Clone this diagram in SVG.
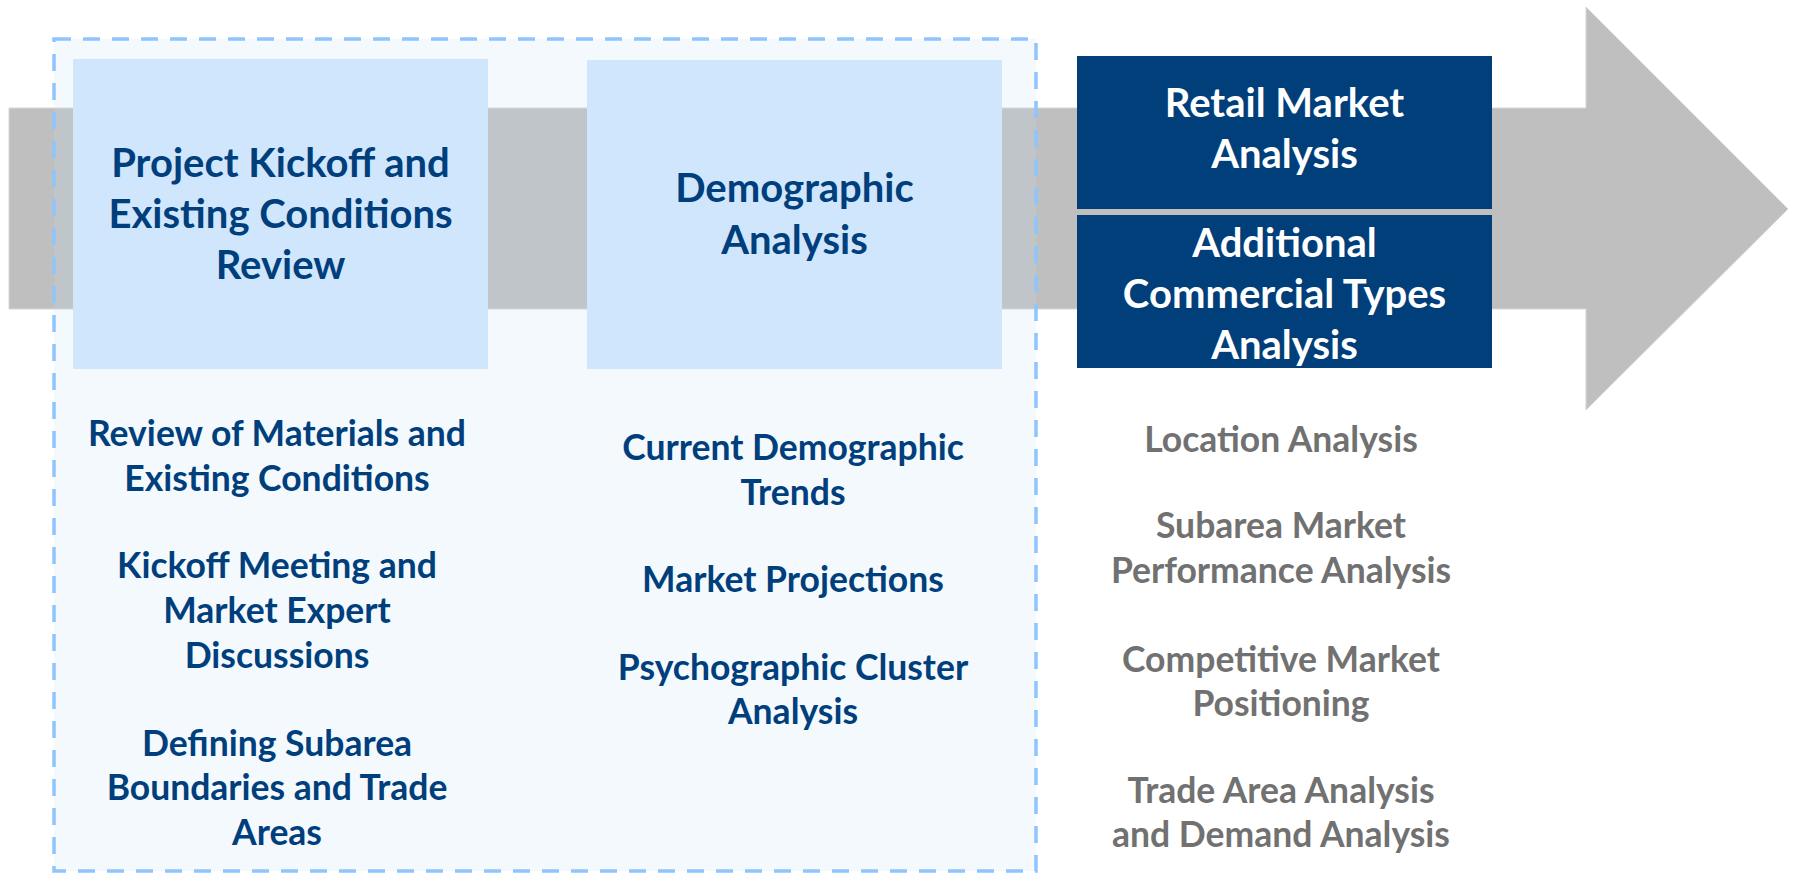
<svg xmlns="http://www.w3.org/2000/svg" width="1794" height="873" viewBox="0 0 1794 873">
  <style>
    .title { font-family: Lato, "Liberation Sans", sans-serif; font-weight: 700; font-size: 40px; text-anchor: middle; }
    .item { font-family: Lato, "Liberation Sans", sans-serif; font-weight: 700; font-size: 35.5px; text-anchor: middle; }
    .navy { fill: #003F7C; }
    .white { fill: #FFFFFF; }
    .grey { fill: #717171; }
    .phase-light { fill: #D0E6FC; }
    .phase-dark { fill: #013F7B; }
  </style>

  <rect width="1794" height="873" fill="#FFFFFF"/>

  <!-- timeline arrow running behind all phases -->
  <g id="connectors">
    <polygon points="9,108 1586,108 1586,7 1788,209 1586,410 1586,309 9,309" fill="#BFBFBF" stroke="#D6D6D6" stroke-width="1"/>
  </g>

  <!-- dashed grouping frame around the first two phases -->
  <g id="phase-group">
    <rect x="54" y="39" width="982" height="832" fill="rgb(200,225,250)" fill-opacity="0.2"/>
    <rect x="54" y="39" width="982" height="832" fill="none" stroke="#8EC5FD" stroke-width="3.5" stroke-dasharray="17 12"/>
  </g>

  <g id="phase-kickoff">
    <rect class="phase-light" x="73" y="59" width="415" height="310"/>
    <text class="title navy" x="280.5" y="177">Project Kickoff and</text>
    <text class="title navy" x="280.5" y="228">Existing Conditions</text>
    <text class="title navy" x="280.5" y="279">Review</text>
  </g>

  <g id="tasks-kickoff">
    <text class="item navy" x="277" y="446">Review of Materials and</text>
    <text class="item navy" x="277" y="491">Existing Conditions</text>
    <text class="item navy" x="277" y="578">Kickoff Meeting and</text>
    <text class="item navy" x="277" y="623">Market Expert</text>
    <text class="item navy" x="277" y="668">Discussions</text>
    <text class="item navy" x="277" y="756">Defining Subarea</text>
    <text class="item navy" x="277" y="800">Boundaries and Trade</text>
    <text class="item navy" x="277" y="845">Areas</text>
  </g>

  <g id="phase-demographic">
    <rect class="phase-light" x="587" y="60" width="415" height="309"/>
    <text class="title navy" x="794.5" y="202">Demographic</text>
    <text class="title navy" x="794.5" y="254">Analysis</text>
  </g>

  <g id="tasks-demographic">
    <text class="item navy" x="793" y="460">Current Demographic</text>
    <text class="item navy" x="793" y="505">Trends</text>
    <text class="item navy" x="793" y="592">Market Projections</text>
    <text class="item navy" x="793" y="680">Psychographic Cluster</text>
    <text class="item navy" x="793" y="724">Analysis</text>
  </g>

  <g id="phase-retail">
    <rect class="phase-dark" x="1077" y="56" width="415" height="153"/>
    <text class="title white" x="1284.5" y="117">Retail Market</text>
    <text class="title white" x="1284.5" y="168">Analysis</text>
  </g>

  <g id="phase-commercial">
    <rect class="phase-dark" x="1077" y="215" width="415" height="153"/>
    <text class="title white" x="1284.5" y="257">Additional</text>
    <text class="title white" x="1284.5" y="308">Commercial Types</text>
    <text class="title white" x="1284.5" y="359">Analysis</text>
  </g>

  <g id="tasks-market">
    <text class="item grey" x="1281" y="452">Location Analysis</text>
    <text class="item grey" x="1281" y="538">Subarea Market</text>
    <text class="item grey" x="1281" y="583">Performance Analysis</text>
    <text class="item grey" x="1281" y="672">Competitive Market</text>
    <text class="item grey" x="1281" y="716">Positioning</text>
    <text class="item grey" x="1281" y="803">Trade Area Analysis</text>
    <text class="item grey" x="1281" y="847">and Demand Analysis</text>
  </g>
</svg>
